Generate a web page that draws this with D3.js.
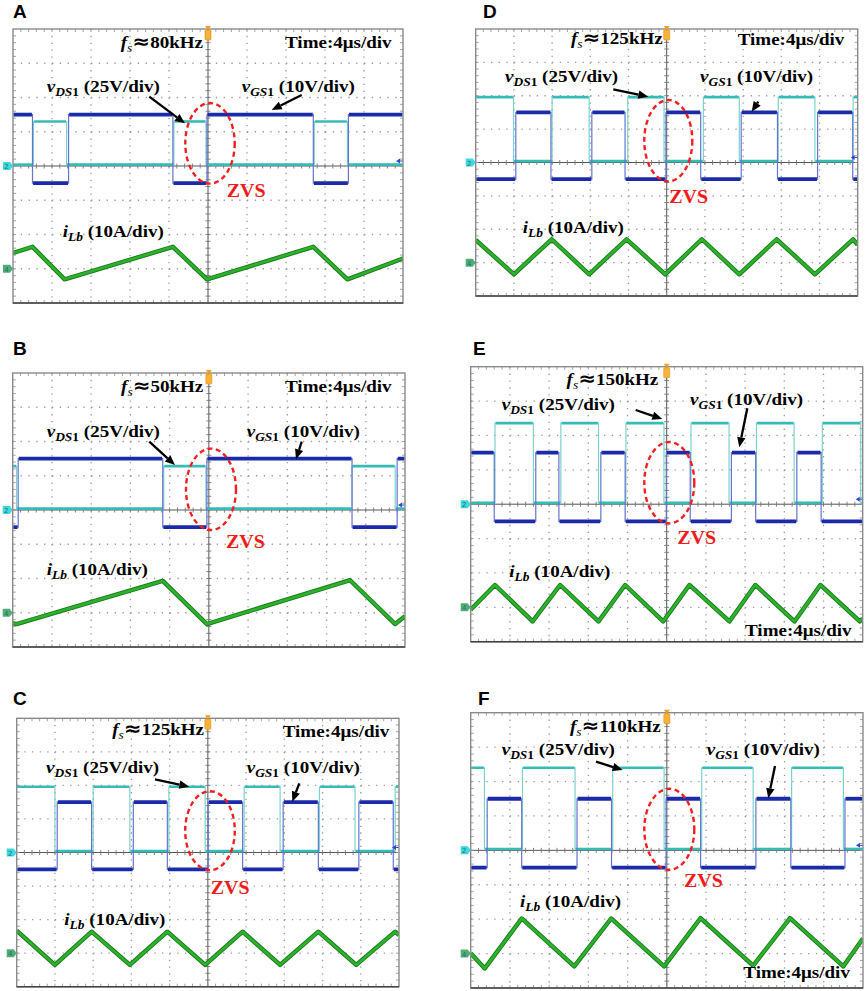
<!DOCTYPE html>
<html>
<head>
<meta charset="utf-8">
<script src="https://cdn.jsdelivr.net/npm/d3@7.9.0/dist/d3.min.js"></script>
<style>
  body { margin: 0; background: #fff; }
  svg { display: block; }
</style>
</head>
<body>
<svg id="fig" width="865" height="991"></svg>
<script>
// ---- data (time in µs, 4 µs/div, 10 div) ----
const panelIds = ['A', 'B', 'C', 'D', 'E', 'F'];
const freqLabels = ['80kHz', '50kHz', '125kHz', '125kHz', '150kHz', '110kHz'];
const timeLabel = 'Time:4μs/div';
const vdsScaleLabel = '(25V/div)';
const vgsScaleLabel = '(10V/div)';
const iLbScaleLabel = '(10A/div)';
const vdsPerDiv = 25, vgsPerDiv = 10, iLbPerDiv = 10;
const iLbOffsetDiv = -3;          // ch4 ground marker, divisions from centre
const timeSpan = [0, 40];

// gate-source voltage vGS1 (V)
const vgsHigh = 15, vgsLow = -5;
const vgsStartHigh = [true, false, false, false, true, false];
const vgsEdges = [
  [2.0, 5.7, 16.4, 19.9, 30.8, 34.4],
  [0.56, 15.3, 19.8, 34.6, 39.2],
  [4.24, 7.84, 12.2, 15.76, 20.04, 23.64, 27.88, 31.56, 35.8, 39.4],
  [4.2, 7.88, 12.16, 15.64, 19.92, 23.56, 27.8, 31.6, 35.8, 39.48],
  [2.4, 6.64, 9.0, 13.28, 15.76, 19.96, 22.4, 26.6, 29.08, 33.28, 35.76],
  [1.68, 5.2, 10.84, 14.36, 19.92, 23.44, 29.08, 32.64, 38.16]
];

// drain-source voltage vDS1 (V)
const vdsHigh = [32.5, 32, 49, 49, 59, 60];
const vdsLow = 1;
const vdsStartHigh = [false, true, true, true, false, true];
const vdsEdges = [
  [2.1, 5.5, 16.5, 19.8, 30.9, 34.3],
  [0.4, 15.4, 19.7, 34.6, 39.0],
  [4.0, 8.0, 11.84, 15.92, 19.72, 23.8, 27.56, 31.68, 35.4, 39.6],
  [3.96, 8.0, 11.88, 15.92, 19.72, 23.84, 27.6, 31.68, 35.52, 39.52],
  [2.48, 6.4, 9.2, 13.04, 15.84, 19.72, 22.48, 26.36, 29.16, 33.0, 35.88, 39.8],
  [1.4, 5.28, 10.64, 14.48, 19.72, 23.56, 28.8, 32.72, 38.0]
];

// inductor current iLb (A), vertices [t, i]
const iLbPoints = [
  [[0, 4.6], [2.0, 6.4], [5.3, -3.1], [16.4, 6.4], [19.9, -3.1], [30.8, 6.4], [34.3, -3.1], [40, 3.0]],
  [[0, -3.0], [0.4, -3.3], [15.3, 9.3], [19.8, -3.3], [34.4, 9.5], [39.0, -3.3], [40, -1.0]],
  [[0, 6.7], [4.0, -3.5], [7.84, 6.4], [11.84, -3.5], [15.76, 6.4], [19.72, -3.5], [23.64, 6.4], [27.56, -3.5], [31.56, 6.4], [35.52, -3.5], [39.6, 6.4], [40, 5.4]],
  [[0, 6.8], [4.0, -3.5], [7.96, 7.0], [11.88, -3.5], [15.8, 7.0], [19.84, -3.5], [23.68, 7.0], [27.6, -3.5], [31.52, 7.0], [35.52, -3.5], [39.52, 7.0], [40, 5.3]],
  [[0, -0.7], [2.48, 6.5], [6.32, -4.1], [9.12, 6.5], [13.04, -4.1], [15.76, 6.5], [19.64, -4.1], [22.32, 6.5], [26.4, -4.1], [29.04, 6.5], [33.04, -4.1], [35.68, 6.5], [39.7, -4.1], [40, -3.3]],
  [[0, 0.1], [1.44, -4.3], [5.2, 10.2], [10.56, -3.7], [14.32, 10.2], [19.72, -3.7], [23.44, 10.3], [28.8, -3.5], [32.56, 10.3], [38.0, -3.7], [40, 4.4]]
];

// ---- layout: scope frames and where the labels sit (px, relative to frame) ----
const layout = {
  A: { x: 13, y: 29, w: 390, h: 274, letter: [13, 17.5],
       fs: [190, 19.3], time: [272, 19.3], vds: [33.7, 62.7], vgs: [228.7, 62.7], ilb: [49.7, 207.7],
       zvs: [213.7, 167.7], ell: [197, 114.3, 24.7, 40.3],
       arr1: [136.3, 67.7, 172, 94.3], arr2: [288.7, 66, 258.7, 81] },
  B: { x: 12.7, y: 373, w: 392.3, h: 274, letter: [13, 355],
       fs: [190.6, 18.7], time: [272.3, 18.7], vds: [34, 63.7], vgs: [234, 63.7], ilb: [34, 202],
       zvs: [213.3, 174.7], ell: [198.3, 116.3, 25, 40.7],
       arr1: [136.6, 68.7, 162.3, 92], arr2: [289, 68.7, 283.3, 86.3] },
  C: { x: 16.7, y: 718.3, w: 382.3, h: 268.4, letter: [13, 705],
       fs: [187.3, 16.7], time: [266, 18.4], vds: [29.3, 54.4], vgs: [230, 55], ilb: [47.6, 206.7],
       zvs: [194, 175.7], ell: [193.3, 112.4, 24.8, 39.5],
       arr1: [138.3, 61, 172.6, 68.4], arr2: [282.6, 65, 275.6, 83.4] },
  D: { x: 475.7, y: 29, w: 382, h: 267, letter: [483, 17.5],
       fs: [187, 15.3], time: [262, 16], vds: [29.3, 52.7], vgs: [224.3, 52.7], ilb: [47, 204.3],
       zvs: [193.6, 174.3], ell: [192.6, 111.7, 24, 40.7],
       arr1: [137.6, 60.3, 172.6, 67.7], arr2: [282.6, 72.7, 276, 82.7] },
  E: { x: 470.7, y: 366.7, w: 392, h: 275, letter: [473, 355],
       fs: [187.6, 18.3], time: [274.3, 269], vds: [31, 43.3], vgs: [219.3, 38.3], ilb: [38.6, 210],
       zvs: [206.6, 177.3], ell: [198.6, 116, 25, 40.7],
       arr1: [165, 43.3, 191.6, 52.3], arr2: [276.6, 41.6, 268.6, 80.6] },
  F: { x: 470.7, y: 712.7, w: 392.3, h: 275.3, letter: [478, 705],
       fs: [190, 19], time: [272.6, 265.6], vds: [31, 42.3], vgs: [236, 42.3], ilb: [49.3, 194],
       zvs: [213.3, 174.6], ell: [198.6, 116.6, 25, 40.5],
       arr1: [125.3, 49, 152, 57.3], arr2: [304.3, 53.3, 297.6, 85.6] }
};

const blue = '#1b2aa8', blueEdge = '#6574cc';
const cyan = '#36bcb6', cyanEdge = '#7ad3cf';
const green = '#2cb22c', greenDark = '#1a7a1a';
const serif = '"Liberation Serif", "Times New Roman", serif';
const sx = 1.12;   // the shots are stretched horizontally

const svg = d3.select('#fig');

function stepSegments(startHigh, edges, hi, lo) {
  const times = [timeSpan[0], ...edges, timeSpan[1]];
  let high = startHigh;
  let segs = [];
  for (let k = 0; k < times.length - 1; k++) {
    segs.push({ t0: times[k], t1: times[k + 1], v: high ? hi : lo });
    high = !high;
  }
  return segs;
}

function drawStep(g, segs, x, y, perDiv, color, edgeColor, width) {
  let pts = [];
  segs.forEach((s) => { pts.push([s.t0, s.v], [s.t1, s.v]); });
  g.append('path')
    .attr('d', d3.line().x((d) => x(d[0])).y((d) => y(d[1] / perDiv))(pts))
    .attr('fill', 'none').attr('stroke', edgeColor).attr('stroke-width', 1.2);
  g.selectAll(null).data(segs).join('line')
    .attr('x1', (d) => x(d.t0) + 0.6).attr('x2', (d) => x(d.t1) - 0.6)
    .attr('y1', (d) => y(d.v / perDiv)).attr('y2', (d) => y(d.v / perDiv))
    .attr('stroke', color).attr('stroke-width', width);
}

function label(g, px, py, anchor, size) {
  return g.append('g').attr('transform', `translate(${px},${py}) scale(${sx},1)`)
    .append('text')
    .attr('text-anchor', anchor)
    .attr('font-family', serif)
    .attr('font-weight', 'bold')
    .attr('font-size', size);
}

function subLabel(g, px, py, main, sub, subTail, rest) {
  let t = label(g, px, py, 'start', 17);
  t.append('tspan').attr('font-style', 'italic').text(main);
  t.append('tspan').attr('font-style', 'italic').attr('font-size', 12).attr('dy', 4).text(sub);
  if (subTail) t.append('tspan').attr('font-size', 12).text(subTail);
  t.append('tspan').attr('dy', -4).text(' ' + rest);
}

function arrow(g, a) {
  let [x1, y1, x2, y2] = a;
  let ang = Math.atan2(y2 - y1, x2 - x1);
  let L = 10, W = 4.2;
  let bx = x2 - L * Math.cos(ang), by = y2 - L * Math.sin(ang);
  g.append('line').attr('x1', x1).attr('y1', y1).attr('x2', bx).attr('y2', by)
    .attr('stroke', '#000').attr('stroke-width', 2.3);
  let px = -Math.sin(ang) * W, py = Math.cos(ang) * W;
  g.append('path')
    .attr('d', `M${x2},${y2}L${bx + px},${by + py}L${bx - px},${by - py}Z`)
    .attr('fill', '#000');
}

panelIds.forEach((id, i) => {
  const f = layout[id];
  const x = d3.scaleLinear().domain(timeSpan).range([f.x, f.x + f.w]);
  const y = d3.scaleLinear().domain([4, -4]).range([f.y, f.y + f.h]);
  const divX = f.w / 10, divY = f.h / 8;

  const g = svg.append('g');

  // panel letter
  g.append('text').attr('x', f.letter[0]).attr('y', f.letter[1])
    .attr('font-family', '"Liberation Sans", Arial, sans-serif')
    .attr('font-weight', 'bold').attr('font-size', 19).text(id);

  // graticule
  const grid = g.append('g');
  d3.range(1, 10).filter((k) => k !== 5).forEach((k) => {
    grid.append('line').attr('x1', f.x + k * divX).attr('x2', f.x + k * divX)
      .attr('y1', f.y).attr('y2', f.y + f.h)
      .attr('stroke', '#9a9a9a').attr('stroke-width', 1.3)
      .attr('stroke-dasharray', `1.3,${divY / 5 - 1.3}`);
  });
  d3.range(1, 8).filter((k) => k !== 4).forEach((k) => {
    grid.append('line').attr('y1', f.y + k * divY).attr('y2', f.y + k * divY)
      .attr('x1', f.x).attr('x2', f.x + f.w)
      .attr('stroke', '#9a9a9a').attr('stroke-width', 1.3)
      .attr('stroke-dasharray', `1.3,${divX / 5 - 1.3}`);
  });
  const cx = x(20), cy = y(0);
  grid.append('line').attr('x1', cx).attr('x2', cx).attr('y1', f.y).attr('y2', f.y + f.h)
    .attr('stroke', '#555').attr('stroke-width', 1);
  grid.append('line').attr('x1', f.x).attr('x2', f.x + f.w).attr('y1', cy).attr('y2', cy)
    .attr('stroke', '#555').attr('stroke-width', 1);
  // minor ticks on the centre lines and the frame
  d3.range(1, 50).forEach((k) => {
    let tx = f.x + k * divX / 5;
    grid.append('line').attr('x1', tx).attr('x2', tx).attr('y1', cy - 2.5).attr('y2', cy + 2.5)
      .attr('stroke', '#777').attr('stroke-width', 0.9);
    grid.append('line').attr('x1', tx).attr('x2', tx).attr('y1', f.y).attr('y2', f.y + 3)
      .attr('stroke', '#999').attr('stroke-width', 0.9);
    grid.append('line').attr('x1', tx).attr('x2', tx).attr('y1', f.y + f.h - 3).attr('y2', f.y + f.h)
      .attr('stroke', '#999').attr('stroke-width', 0.9);
  });
  d3.range(1, 40).forEach((k) => {
    let ty = f.y + k * divY / 5;
    grid.append('line').attr('y1', ty).attr('y2', ty).attr('x1', cx - 2.5).attr('x2', cx + 2.5)
      .attr('stroke', '#777').attr('stroke-width', 0.9);
    grid.append('line').attr('y1', ty).attr('y2', ty).attr('x1', f.x).attr('x2', f.x + 3)
      .attr('stroke', '#999').attr('stroke-width', 0.9);
    grid.append('line').attr('y1', ty).attr('y2', ty).attr('x1', f.x + f.w - 3).attr('x2', f.x + f.w)
      .attr('stroke', '#999').attr('stroke-width', 0.9);
  });

  // traces, clipped to the screen
  const clipId = 'clip' + id;
  svg.append('clipPath').attr('id', clipId).append('rect')
    .attr('x', f.x).attr('y', f.y).attr('width', f.w).attr('height', f.h);
  const tr = g.append('g').attr('clip-path', `url(#${clipId})`);

  drawStep(tr, stepSegments(vdsStartHigh[i], vdsEdges[i], vdsHigh[i], vdsLow), x, y, vdsPerDiv, cyan, cyanEdge, 2.6);
  drawStep(tr, stepSegments(vgsStartHigh[i], vgsEdges[i], vgsHigh, vgsLow), x, y, vgsPerDiv, blue, blueEdge, 3.8);

  const iLine = d3.line().x((d) => x(d[0])).y((d) => y(d[1] / iLbPerDiv + iLbOffsetDiv));
  tr.append('path').attr('d', iLine(iLbPoints[i])).attr('fill', 'none')
    .attr('stroke', greenDark).attr('stroke-width', 4.4).attr('stroke-linejoin', 'round');
  tr.append('path').attr('d', iLine(iLbPoints[i])).attr('fill', 'none')
    .attr('stroke', green).attr('stroke-width', 2.6).attr('stroke-linejoin', 'round');

  // frame
  g.append('rect').attr('x', f.x).attr('y', f.y).attr('width', f.w).attr('height', f.h)
    .attr('fill', 'none').attr('stroke', '#8a8a8a').attr('stroke-width', 1.4);
  g.append('line').attr('x1', f.x).attr('x2', f.x + f.w).attr('y1', f.y + f.h).attr('y2', f.y + f.h)
    .attr('stroke', '#444').attr('stroke-width', 1.6);

  // channel markers on the left edge
  const marker = (my, fill, txt) => {
    g.append('path')
      .attr('d', `M${f.x - 10},${my - 4}L${f.x - 3},${my - 4}L${f.x},${my}L${f.x - 3},${my + 4}L${f.x - 10},${my + 4}Z`)
      .attr('fill', fill);
    g.append('text').attr('x', f.x - 6.5).attr('y', my + 3).attr('text-anchor', 'middle')
      .attr('font-family', 'DejaVu Sans, sans-serif').attr('font-size', 7).attr('fill', '#2a6e6a').text(txt);
  };
  marker(cy, '#3fd8e0', '2');
  marker(y(iLbOffsetDiv), '#4fae76', '4');

  // trigger position (top) and trigger level (right)
  g.append('path').attr('d', `M${cx - 3},${f.y - 3}L${cx + 3},${f.y - 3}L${cx},${f.y + 1}Z`).attr('fill', '#f0a020');
  g.append('rect').attr('x', cx - 3).attr('y', f.y + 1).attr('width', 6).attr('height', 10)
    .attr('rx', 1).attr('fill', '#f6b23a').attr('stroke', '#e09010').attr('stroke-width', 0.6);
  g.append('path').attr('d', `M${f.x + f.w - 7},${cy - 5}L${f.x + f.w - 3},${cy - 7.5}L${f.x + f.w - 3},${cy - 2.5}Z`)
    .attr('fill', '#2a4ad0');
  g.append('line').attr('x1', f.x + f.w - 4).attr('x2', f.x + f.w - 0.5).attr('y1', cy - 5).attr('y2', cy - 5)
    .attr('stroke', '#2a4ad0').attr('stroke-width', 1);

  // annotations
  const ax = f.x, ay = f.y;
  let fsText = label(g, ax + f.fs[0], ay + f.fs[1], 'end', 17);
  fsText.append('tspan').attr('font-style', 'italic').text('f');
  fsText.append('tspan').attr('font-style', 'italic').attr('font-weight', 'normal')
    .attr('font-size', 12).attr('dy', 4).text('s');
  fsText.append('tspan').attr('font-family', 'DejaVu Sans, sans-serif').attr('font-size', 19)
    .attr('dy', -4).text('≈');
  fsText.append('tspan').text(freqLabels[i]);

  label(g, ax + f.time[0], ay + f.time[1], 'start', 17).text(timeLabel);
  subLabel(g, ax + f.vds[0], ay + f.vds[1], 'v', 'DS', '1', vdsScaleLabel);
  subLabel(g, ax + f.vgs[0], ay + f.vgs[1], 'v', 'GS', '1', vgsScaleLabel);
  subLabel(g, ax + f.ilb[0], ay + f.ilb[1], 'i', 'Lb', '', iLbScaleLabel);

  g.append('g').attr('transform', `translate(${ax + f.zvs[0]},${ay + f.zvs[1]}) scale(1.05,1)`)
    .append('text').attr('font-family', serif).attr('font-weight', 'bold')
    .attr('font-size', 19).attr('fill', '#f01c1c').text('ZVS');

  g.append('ellipse').attr('cx', ax + f.ell[0]).attr('cy', ay + f.ell[1])
    .attr('rx', f.ell[2]).attr('ry', f.ell[3])
    .attr('fill', 'none').attr('stroke', '#f42020').attr('stroke-width', 2.4)
    .attr('stroke-dasharray', '5,3.5');

  arrow(g, [ax + f.arr1[0], ay + f.arr1[1], ax + f.arr1[2], ay + f.arr1[3]]);
  arrow(g, [ax + f.arr2[0], ay + f.arr2[1], ax + f.arr2[2], ay + f.arr2[3]]);
});
</script>
</body>
</html>
